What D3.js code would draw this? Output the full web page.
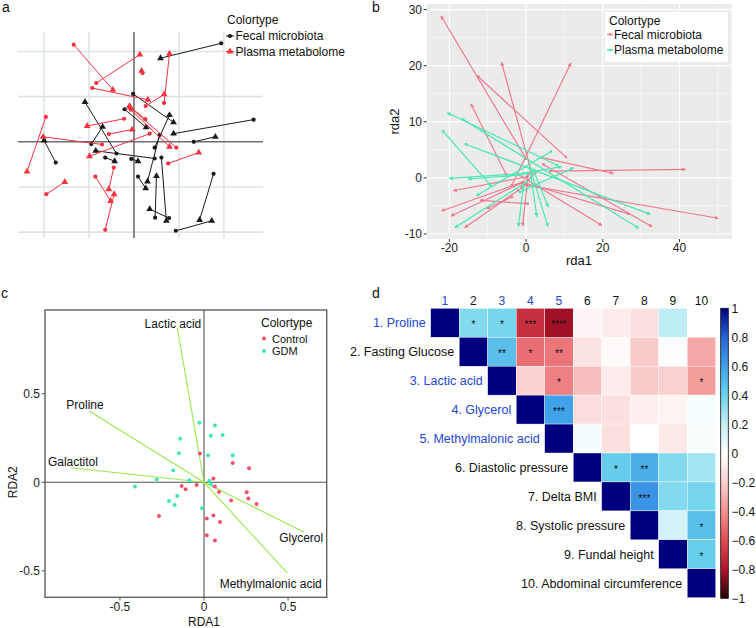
<!DOCTYPE html>
<html><head><meta charset="utf-8">
<script src="https://cdn.jsdelivr.net/npm/d3@7"></script>
<style>body{margin:0;background:#fff} text{font-family:"Liberation Sans", Arial, sans-serif}</style>
</head><body><svg id="chart" width="756" height="628"></svg>
<script>
// ===== Panel a: Procrustes (each segment: circleX, circleY, triangleX, triangleY)
const aBlackSegments = [
 [1.94,2.18,0.59,1.85],[-0.02,1.06,0.88,0.43],[0.46,-0.13,0.79,0.59],[-0.39,-0.26,-1.09,0.88],
 [-0.21,0.72,0.27,0.32],[2.66,0.49,0.88,0.18],[1.33,0.00,1.81,0.11],[-0.95,-0.05,-0.70,0.33],
 [-1.74,-0.46,-2.00,0.03],[0.46,-0.37,-0.85,-0.20],[-0.64,-0.35,-0.43,-0.43],[-0.06,-0.38,0.09,-0.43],
 [0.57,0.15,0.30,-0.88],[0.09,-0.77,0.26,-1.03],[0.61,-0.35,0.72,-1.75],[0.47,-1.68,0.50,-0.76],
 [0.78,-1.69,0.35,-1.49],[1.77,-0.71,1.46,-1.73],[0.93,-1.97,1.73,-1.75]
];
const aRedSegments = [
 [-1.34,2.15,-0.47,1.15],[-0.84,1.30,0.13,1.93],[0.19,1.52,0.17,1.57],[-0.93,1.19,0.31,0.93],
 [0.67,0.86,0.79,1.95],[0.26,0.79,0.67,1.05],[0.25,0.50,-0.10,0.79],[-0.07,0.71,0.79,-0.11],
 [0.94,-0.13,-0.08,0.76],[-0.22,0.51,-1.04,0.35],[-0.56,0.17,-0.04,0.27],[-1.96,0.55,-2.38,-0.66],
 [-0.71,-0.06,-2.02,0.11],[0.35,0.18,-0.99,-0.32],[-1.95,-1.16,-1.54,-0.89],[-0.86,-0.77,-0.52,-1.31],
 [-0.45,-0.57,-0.56,-1.05],[-0.64,-1.95,-0.44,-1.16],[0.76,-0.48,1.44,-0.24]
];
const aGridTicks = [-2,-1,1,2];
const aLegendTitle = "Colortype";
const aLegendLabels = ["Fecal microbiota","Plasma metabolome"];

// ===== Panel b: arrows [x0, y0, x1, y1]
const bFecalArrows = [
 [0.0,3.4,-22.2,28.9],[10.4,3.7,-12.9,18.3],[1.5,0.8,-6.4,20.6],[-3.7,-1.3,11.7,20.5],
 [-5.2,0.6,-14.4,13.2],[4.1,3.6,22.8,0.8],[6.3,1.2,41.6,1.5],[0.0,-1.3,50.1,-7.2],
 [4.5,2.4,32.9,-8.7],[-1.1,0.2,19.8,-8.5],[0.2,-1.0,27.2,-6.5],[0.6,0.8,-0.9,-8.6],
 [0.2,0.2,-19.0,-2.3],[-0.7,-0.7,-22.1,-5.9],[-1.1,-0.9,-19.6,-6.8],[-2.0,-2.2,-16.0,-8.9],
 [0.4,-4.6,-12.0,-4.0],[-3.7,-3.4,-10.3,-5.5],[2.5,1.0,-1.5,-2.0]
];
const bPlasmaArrows = [
 [8.0,2.3,-20.5,11.6],[-16.4,10.4,29.4,-9.0],[-15.7,6.0,32.4,-6.5],[-21.6,8.3,-9.0,-1.5],
 [6.5,4.7,-13.0,-3.2],[-1.6,-2.5,12.4,1.8],[0.2,0.8,-20.0,-0.1],[-1.6,0.5,-15.1,-0.2],
 [0.2,-0.7,-18.6,-8.9],[-0.7,-1.6,-2.0,-8.7],[1.0,1.7,2.8,-6.9],[1.5,0.8,5.7,-8.7],
 [1.9,1.4,5.8,-5.2],[-0.7,0.8,9.2,2.0]
];
const bXTicks = [-20,0,20,40];
const bYTicks = [-10,0,10,20,30];
const bXMinor = [-10,10,30,50];
const bYMinor = [-5,5,15,25];
const bXTitle = "rda1", bYTitle = "rda2";

// ===== Panel c: RDA
const cControlX = [-0.024,0.171,0.268,0.056,-0.044,-0.133,-0.109,0.065,0.089,0.254,0.264,0.313,0.161,-0.268,0.056,0.016,0.095,0.016,0.065];
const cControlY = [0.162,0.109,0.079,0.021,-0.015,-0.021,-0.039,-0.024,-0.055,-0.056,-0.092,-0.122,-0.103,-0.190,-0.188,-0.205,-0.224,-0.299,-0.329];
const cGdmX = [-0.028,0.065,0.040,0.111,-0.141,-0.149,0.024,0.171,-0.183,-0.282,-0.087,0.032,0.042,-0.411,-0.159,-0.208,-0.175,-0.012];
const cGdmY = [0.336,0.321,0.263,0.267,0.246,0.164,0.152,0.152,0.068,0.015,0.011,0.008,-0.011,-0.024,-0.077,-0.105,-0.128,-0.147];
const cArrowNames = ["Lactic acid","Proline","Galactitol","Glycerol","Methylmalonic acid"];
const cArrowX = [-0.159,-0.683,-0.792,0.597,0.496];
const cArrowY = [0.872,0.402,0.082,-0.282,-0.513];
const cLabelX = [-0.185,-0.708,-0.780,0.578,0.397];
const cLabelY = [0.893,0.436,0.114,-0.314,-0.574];
const cTicks = [-0.5,0,0.5];
const cLegendLabels = ["Control","GDM"];

// ===== Panel d: correlation matrix (upper triangle, row i from column i)
const dLabels = ["1. Proline","2. Fasting Glucose","3. Lactic acid","4. Glycerol","5. Methylmalonic acid",
 "6. Diastolic pressure","7. Delta BMI","8. Systolic pressure","9. Fundal height","10. Abdominal circumference"];
const dColumns = ["1","2","3","4","5","6","7","8","9","10"];
const dBlueItems = [1,3,4,5];
const dCorr = [
 [1,0.35,0.38,-0.70,-0.82,-0.04,-0.08,-0.13,0.22,0.0],
 [1,0.48,-0.50,-0.48,-0.12,-0.02,-0.22,0.01,-0.33],
 [1,-0.20,-0.45,-0.26,-0.08,-0.22,-0.20,-0.36],
 [1,0.60,-0.15,-0.13,-0.07,-0.05,0.03],
 [1,0.04,-0.13,0.0,-0.10,0.02],
 [1,0.43,0.55,0.35,0.28],
 [1,0.65,0.35,0.38],
 [1,0.15,0.48],
 [1,0.42],
 [1]
];
const dStars = [
 ["","*","*","***","****","","","","",""],
 ["","**","*","**","","","","",""],
 ["","","*","","","","","*"],
 ["","***","","","","",""],
 ["","","","","",""],
 ["","*","**","",""],
 ["","***","",""],
 ["","","*"],
 ["","*"],
 [""]
];
const dBarTicks = [1,0.8,0.6,0.4,0.2,0,-0.2,-0.4,-0.6,-0.8,-1];

// ================= drawing =================
const svg = d3.select("#chart");
svg.append("rect").attr("width",756).attr("height",628).attr("fill","#fff");
const defs = svg.append("defs");
const FONT = 12;

function panelLabel(t,x,y){ svg.append("text").attr("x",x).attr("y",y).attr("font-size",14).attr("fill","#111").text(t); }
panelLabel("a",2,12); panelLabel("b",372,12); panelLabel("c",1,298); panelLabel("d",372,298);

// ---------- Panel a
(function(){
 const g = svg.append("g");
 const x = d3.scaleLinear().domain([-2.58,2.87]).range([18,263]);
 const y = d3.scaleLinear().domain([-2.13,2.43]).range([238,32]);
 const [x0,x1] = x.range(), [y1,y0] = y.range();
 g.selectAll("line.gv").data(aGridTicks).join("line").attr("x1",d=>x(d)).attr("x2",d=>x(d)).attr("y1",y0).attr("y2",y1).attr("stroke","#dde4e8").attr("stroke-width",1.6);
 g.selectAll("line.gh").data(aGridTicks).join("line").attr("y1",d=>y(d)).attr("y2",d=>y(d)).attr("x1",x0).attr("x2",x1).attr("stroke","#dde4e8").attr("stroke-width",1.6);
 g.append("line").attr("x1",x(0)).attr("x2",x(0)).attr("y1",y0).attr("y2",y1).attr("stroke","#6e6e6e").attr("stroke-width",1.6);
 g.append("line").attr("y1",y(0)).attr("y2",y(0)).attr("x1",x0).attr("x2",x1).attr("stroke","#6e6e6e").attr("stroke-width",1.6);
 const tri = d3.symbol(d3.symbolTriangle).size(20);
 function drawSet(data,col){
  g.selectAll(null).data(data).join("line").attr("x1",d=>x(d[0])).attr("y1",d=>y(d[1])).attr("x2",d=>x(d[2])).attr("y2",d=>y(d[3])).attr("stroke",col).attr("stroke-width",1);
  g.selectAll(null).data(data).join("circle").attr("cx",d=>x(d[0])).attr("cy",d=>y(d[1])).attr("r",2.1).attr("fill",col);
  g.selectAll(null).data(data).join("path").attr("d",tri).attr("transform",d=>`translate(${x(d[2])},${y(d[3])})`).attr("fill",col);
 }
 drawSet(aBlackSegments,"#1a1a1a");
 drawSet(aRedSegments,"#f2323f");
 g.append("text").attr("x",227).attr("y",24).attr("font-size",FONT).attr("fill","#111").text(aLegendTitle);
 const cols = ["#1a1a1a","#f2323f"];
 aLegendLabels.forEach((t,i)=>{
  const yy = 36 + i*15.5;
  g.append("line").attr("x1",226).attr("x2",234).attr("y1",yy).attr("y2",yy).attr("stroke",cols[i]).attr("stroke-width",1);
  if(i===0) g.append("circle").attr("cx",230).attr("cy",yy).attr("r",2.1).attr("fill",cols[i]);
  else g.append("path").attr("d",tri).attr("transform",`translate(230,${yy})`).attr("fill",cols[i]);
  g.append("text").attr("x",235.5).attr("y",yy+4.3).attr("font-size",FONT).attr("fill","#111").text(t);
 });
})();

// ---------- Panel b
(function(){
 const g = svg.append("g");
 const x = d3.scaleLinear().domain([-25.9,53.6]).range([426.7,731.7]);
 const y = d3.scaleLinear().domain([-10.9,31.0]).range([239,4]);
 g.append("rect").attr("x",426.7).attr("y",4).attr("width",305).attr("height",235).attr("fill","#ebebeb");
 g.selectAll(null).data(bXMinor).join("line").attr("x1",d=>x(d)).attr("x2",d=>x(d)).attr("y1",4).attr("y2",239).attr("stroke","#fff").attr("stroke-width",0.5);
 g.selectAll(null).data(bYMinor).join("line").attr("y1",d=>y(d)).attr("y2",d=>y(d)).attr("x1",426.7).attr("x2",731.7).attr("stroke","#fff").attr("stroke-width",0.5);
 g.selectAll(null).data(bXTicks).join("line").attr("x1",d=>x(d)).attr("x2",d=>x(d)).attr("y1",4).attr("y2",239).attr("stroke","#fff").attr("stroke-width",1.1);
 g.selectAll(null).data(bYTicks).join("line").attr("y1",d=>y(d)).attr("y2",d=>y(d)).attr("x1",426.7).attr("x2",731.7).attr("stroke","#fff").attr("stroke-width",1.1);
 [["arrP","#f07a8e"],["arrG","#48e8b0"]].forEach(([id,c])=>{
  defs.append("marker").attr("id",id).attr("viewBox","0 0 10 10").attr("refX",9).attr("refY",5)
   .attr("markerWidth",4).attr("markerHeight",4).attr("markerUnits","userSpaceOnUse").attr("orient","auto")
   .append("path").attr("d","M0,0L10,5L0,10z").attr("fill",c);
 });
 function drawArr(data,col,mk){
  g.selectAll(null).data(data).join("line").attr("x1",d=>x(d[0])).attr("y1",d=>y(d[1])).attr("x2",d=>x(d[2])).attr("y2",d=>y(d[3]))
   .attr("stroke",col).attr("stroke-width",1.2).attr("marker-end",`url(#${mk})`);
  g.selectAll(null).data(data).join("rect").attr("x",d=>x(d[0])-1.2).attr("y",d=>y(d[1])-1.2).attr("width",2.4).attr("height",2.4).attr("fill",col);
 }
 drawArr(bFecalArrows,"#f07a8e","arrP");
 drawArr(bPlasmaArrows,"#48e8b0","arrG");
 // axes
 g.selectAll(null).data(bXTicks).join("line").attr("x1",d=>x(d)).attr("x2",d=>x(d)).attr("y1",239).attr("y2",242).attr("stroke","#333");
 g.selectAll(null).data(bXTicks).join("text").attr("x",d=>x(d)).attr("y",252).attr("text-anchor","middle").attr("font-size",FONT).attr("fill","#222").text(d=>d);
 g.selectAll(null).data(bYTicks).join("line").attr("x1",423.7).attr("x2",426.7).attr("y1",d=>y(d)).attr("y2",d=>y(d)).attr("stroke","#333");
 g.selectAll(null).data(bYTicks).join("text").attr("x",422).attr("y",d=>y(d)+4.3).attr("text-anchor","end").attr("font-size",FONT).attr("fill","#222").text(d=>d);
 g.append("text").attr("x",579).attr("y",265).attr("text-anchor","middle").attr("font-size",13).attr("fill","#111").text(bXTitle);
 g.append("text").attr("transform","translate(399,121.5) rotate(-90)").attr("text-anchor","middle").attr("font-size",13).attr("fill","#111").text(bYTitle);
 // legend
 g.append("rect").attr("x",605).attr("y",12).attr("width",123).attr("height",50).attr("fill","#fff");
 g.append("text").attr("x",609).attr("y",25).attr("font-size",FONT).attr("fill","#111").text(aLegendTitle);
 const cols = ["#f07a8e","#48e8b0"];
 aLegendLabels.forEach((t,i)=>{
  const yy = 34.5 + i*15.5;
  g.append("line").attr("x1",607).attr("x2",613).attr("y1",yy).attr("y2",yy).attr("stroke",cols[i]).attr("stroke-width",1.2);
  g.append("rect").attr("x",609).attr("y",yy-1.2).attr("width",2.4).attr("height",2.4).attr("fill",cols[i]);
  g.append("text").attr("x",614).attr("y",yy+4.3).attr("font-size",FONT).attr("fill","#111").text(t);
 });
})();

// ---------- Panel c
(function(){
 const g = svg.append("g");
 const x = d3.scaleLinear().domain([-0.946,0.73]).range([45,326.7]);
 const y = d3.scaleLinear().domain([-0.649,0.972]).range([597.3,310]);
 g.append("line").attr("x1",x(0)).attr("x2",x(0)).attr("y1",310).attr("y2",597.3).attr("stroke","#555").attr("stroke-width",1.1);
 g.append("line").attr("y1",y(0)).attr("y2",y(0)).attr("x1",45).attr("x2",326.7).attr("stroke","#555").attr("stroke-width",1.1);
 g.selectAll(null).data(cArrowX).join("line").attr("x1",x(0)).attr("y1",y(0)).attr("x2",d=>x(d)).attr("y2",(d,i)=>y(cArrowY[i])).attr("stroke","#99e84a").attr("stroke-width",1.1);
 g.selectAll(null).data(cArrowNames).join("text").attr("x",(d,i)=>x(cLabelX[i])).attr("y",(d,i)=>y(cLabelY[i])+4.3).attr("text-anchor","middle").attr("font-size",FONT).attr("fill","#111").text(d=>d);
 g.selectAll(null).data(cGdmX).join("circle").attr("cx",d=>x(d)).attr("cy",(d,i)=>y(cGdmY[i])).attr("r",2).attr("fill","#3de8b8");
 g.selectAll(null).data(cControlX).join("circle").attr("cx",d=>x(d)).attr("cy",(d,i)=>y(cControlY[i])).attr("r",2).attr("fill","#f0506e");
 g.append("rect").attr("x",45).attr("y",310).attr("width",281.7).attr("height",287.3).attr("fill","none").attr("stroke","#555").attr("stroke-width",1.3);
 g.selectAll(null).data(cTicks).join("line").attr("x1",d=>x(d)).attr("x2",d=>x(d)).attr("y1",597.3).attr("y2",600.5).attr("stroke","#555");
 g.selectAll(null).data(cTicks).join("text").attr("x",d=>x(d)).attr("y",611).attr("text-anchor","middle").attr("font-size",FONT).attr("fill","#222").text(d=>d);
 g.selectAll(null).data(cTicks).join("line").attr("x1",41.8).attr("x2",45).attr("y1",d=>y(d)).attr("y2",d=>y(d)).attr("stroke","#555");
 g.selectAll(null).data(cTicks).join("text").attr("x",40).attr("y",d=>y(d)+4.3).attr("text-anchor","end").attr("font-size",FONT).attr("fill","#222").text(d=>d);
 g.append("text").attr("x",x(0)).attr("y",626).attr("text-anchor","middle").attr("font-size",FONT).attr("fill","#111").text("RDA1");
 g.append("text").attr("transform",`translate(17,${y(0)}) rotate(-90)`).attr("text-anchor","middle").attr("font-size",FONT).attr("fill","#111").text("RDA2");
 g.append("text").attr("x",261).attr("y",327).attr("font-size",FONT).attr("fill","#111").text(aLegendTitle);
 const cols = ["#f0506e","#3de8b8"];
 cLegendLabels.forEach((t,i)=>{
  const yy = 338.5 + i*12.5;
  g.append("circle").attr("cx",264).attr("cy",yy).attr("r",2).attr("fill",cols[i]);
  g.append("text").attr("x",272).attr("y",yy+4).attr("font-size",11).attr("fill","#111").text(t);
 });
})();

// ---------- Panel d
(function(){
 const g = svg.append("g");
 const xb = d3.scaleBand().domain(d3.range(1,11)).range([430.7,715.7]);
 const yb = d3.scaleBand().domain(d3.range(1,11)).range([308.3,597.7]);
 const color = d3.scaleLinear().domain([-1,-0.8,-0.6,-0.4,-0.2,0,0.2,0.4,0.6,0.8,1])
  .range(["#200404","#b0142a","#e04c56","#f29090","#fad0d0","#ffffff","#c6eff6","#6cd3ec","#40a2e8","#2864d8","#00007f"]);
 const cells = [];
 dCorr.forEach((row,i)=>row.forEach((v,k)=>cells.push({r:i+1,c:i+1+k,v,s:dStars[i][k]})));
 g.selectAll(null).data(cells).join("rect").attr("x",d=>xb(d.c)).attr("y",d=>yb(d.r)).attr("width",xb.bandwidth()).attr("height",yb.bandwidth())
  .attr("fill",d=>color(d.v)).attr("stroke","#fff").attr("stroke-width",0.4);
 g.selectAll(null).data(cells.filter(d=>d.s)).join("text").attr("x",d=>xb(d.c)+xb.bandwidth()/2).attr("y",d=>yb(d.r)+yb.bandwidth()/2+5.5)
  .attr("text-anchor","middle").attr("font-size",10).attr("fill","#111").text(d=>d.s);
 const blue = "#2346cf";
 g.selectAll(null).data(dColumns).join("text").attr("x",(d,i)=>xb(i+1)+xb.bandwidth()/2).attr("y",305).attr("text-anchor","middle")
  .attr("font-size",FONT).attr("fill",(d,i)=>dBlueItems.includes(i+1)?blue:"#111").text(d=>d);
 g.selectAll(null).data(dLabels).join("text").attr("x",(d,i)=>xb(i+1)-5).attr("y",(d,i)=>yb(i+1)+yb.bandwidth()/2+4.5).attr("text-anchor","end")
  .attr("font-size",12.5).attr("fill",(d,i)=>dBlueItems.includes(i+1)?blue:"#111").text(d=>d);
 // colour bar
 const by = d3.scaleLinear().domain([-1,1]).range([598.3,308.3]);
 const grad = defs.append("linearGradient").attr("id","cbar").attr("x1",0).attr("x2",0).attr("y1",1).attr("y2",0);
 d3.range(0,1.0001,0.05).forEach(t=>grad.append("stop").attr("offset",t).attr("stop-color",color(-1+2*t)));
 g.append("rect").attr("x",720.7).attr("y",by(1)).attr("width",7.6).attr("height",by(-1)-by(1)).attr("fill","url(#cbar)").attr("stroke","#111").attr("stroke-width",0.8);
 g.selectAll(null).data(dBarTicks).join("text").attr("x",731.5).attr("y",d=>by(d)+4.3).attr("font-size",FONT).attr("fill","#111")
  .text(d=>d<0?"\u2212"+Math.abs(d):String(d));
})();
</script></body></html>
